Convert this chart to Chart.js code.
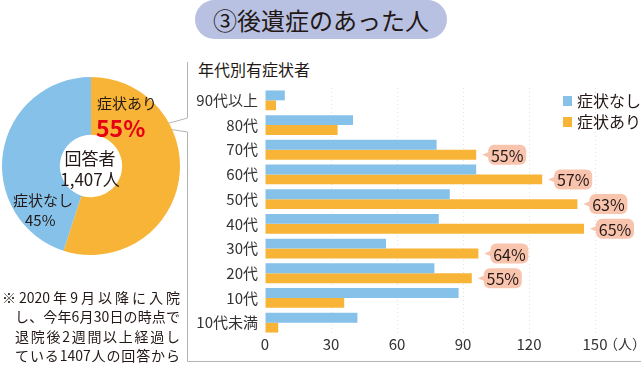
<!DOCTYPE html>
<html lang="ja">
<head>
<meta charset="utf-8">
<title>後遺症のあった人</title>
<script src="https://cdn.jsdelivr.net/npm/chart.js@4.4.0/dist/chart.umd.min.js"></script>
<style>
    html, body { margin: 0; padding: 0; background: #fff; }
    body { width: 641px; height: 371px; position: relative; overflow: hidden;
           font-family: "Noto Sans CJK JP", "Noto Sans", sans-serif; color: #231815; }
    .abs { position: absolute; white-space: nowrap; }
    #title { left: 195px; top: 0; width: 252px; height: 39px; border-radius: 20px;
             background: #b8c1e2; font-size: 24px; line-height: 40px; text-align: center; }
    #subtitle { left: 198px; top: 59px; font-size: 16px; line-height: 20px; }
    #barCanvas { position: absolute; left: 0; top: 0; }
    #pieBox { position: absolute; left: 2px; top: 77px; width: 178px; height: 178px; }
    .pie-lbl { font-size: 15px; line-height: 18px; }
    .note { font-size: 14px; line-height: 18px; text-align: justify; text-align-last: justify; }
</style>
</head>
<body>

<div id="title" class="abs">③後遺症のあった人</div>
<div id="subtitle" class="abs">年代別有症状者</div>

<canvas id="barCanvas" width="641" height="371"></canvas>
<div id="pieBox"><canvas id="pieCanvas"></canvas></div>

<div class="abs pie-lbl" style="left:97px; top:94px;">症状あり</div>
<div class="abs" style="left:96px; top:113px; font-size:23px; line-height:28px; font-weight:bold; color:#e60012;">55%</div>
<div class="abs" style="left:58px; width:64px; top:147px; font-size:17px; line-height:21px; text-align:center;">回答者</div>
<div class="abs" style="left:54px; width:72px; top:168px; font-size:17px; line-height:21px; text-align:center;">1,407人</div>
<div class="abs pie-lbl" style="left:13px; top:191px;">症状なし</div>
<div class="abs pie-lbl" style="left:25px; top:211px;">45%</div>

<div class="abs note" style="left:2px; width:178px; top:288px;">※2020年9月以降に入院</div>
<div class="abs note" style="left:15px; width:165px; top:307px;">し、今年6月30日の時点で</div>
<div class="abs note" style="left:15px; width:165px; top:327px;">退院後2週間以上経過し</div>
<div class="abs note" style="left:15px; width:165px; top:346px;">ている1407人の回答から</div>

<script>
// --- data ---
const ageGroups = ['90代以上', '80代', '70代', '60代', '50代', '40代', '30代', '20代', '10代', '10代未満'];
const noSymptoms = [9, 40, 78, 96, 84, 79, 55, 77, 88, 42];
const withSymptoms = [5, 33, 96, 126, 142, 145, 97, 94, 36, 6];
const symptomPct = [null, null, 55, 57, 63, 65, 64, 55, null, null];
const xTicks = [0, 30, 60, 90, 120, 150];

const pieLabels = ['症状あり', '症状なし'];
const pieValues = [55, 45];

const BLUE = '#86c1e9';
const ORANGE = '#f8b436';
const FONT = '"Noto Sans CJK JP", "Noto Sans", sans-serif';

// frame round the bar chart, with the pointer towards the doughnut
const framePlugin = {
    id: 'frame',
    beforeDraw(chart) {
        const ctx = chart.ctx;
        ctx.save();
        ctx.strokeStyle = '#b4b4b4';
        ctx.lineWidth = 1;
        ctx.beginPath();
        ctx.moveTo(187.5, 62);
        ctx.lineTo(187.5, 118);
        ctx.lineTo(155, 127);
        ctx.lineTo(187.5, 132);
        ctx.lineTo(187.5, 361.5);
        ctx.lineTo(641, 361.5);
        ctx.stroke();
        ctx.restore();
    }
};

// legend box in the top right and the "（人）" unit after the last tick
const legendPlugin = {
    id: 'cornerLegend',
    afterDraw(chart) {
        const ctx = chart.ctx;
        ctx.save();
        ctx.font = '16px ' + FONT;
        ctx.textBaseline = 'middle';
        chart.data.datasets.forEach((ds, i) => {
            const y = 101 + i * 21;
            ctx.fillStyle = ds.backgroundColor;
            ctx.fillRect(563, y - 5, 9, 10);
            ctx.fillStyle = '#231815';
            ctx.fillText(ds.label, 577, y);
        });
        const xs = chart.scales.x;
        ctx.font = '14px ' + FONT;
        ctx.fillStyle = '#333';
        ctx.fillText('（人）', xs.getPixelForValue(150) + 9, 344);
        ctx.restore();
    }
};

// pink speech bubbles with the share of people having symptoms
const bubblePlugin = {
    id: 'pctBubbles',
    afterDatasetsDraw(chart) {
        const ctx = chart.ctx;
        const meta = chart.getDatasetMeta(1);
        ctx.save();
        ctx.font = '16px ' + FONT;
        ctx.textAlign = 'center';
        ctx.textBaseline = 'middle';
        meta.data.forEach((bar, i) => {
            if (symptomPct[i] == null) return;
            const x = bar.x + 6;
            const y = bar.y;
            const left = x + 6, w = 38, h = 20, r = 6;
            ctx.fillStyle = '#f9c4ad';
            ctx.beginPath();
            ctx.moveTo(x, y);
            ctx.lineTo(left + 1, y - 3);
            ctx.lineTo(left + 1, y + 3);
            ctx.closePath();
            ctx.fill();
            ctx.beginPath();
            ctx.roundRect(left, y - h / 2, w, h, r);
            ctx.fill();
            ctx.fillStyle = '#231815';
            ctx.fillText(symptomPct[i] + '%', left + w / 2, y + 1);
        });
        ctx.restore();
    }
};

new Chart(document.getElementById('barCanvas'), {
    type: 'bar',
    data: {
        labels: ageGroups,
        datasets: [
            { label: '症状なし', data: noSymptoms, backgroundColor: BLUE },
            { label: '症状あり', data: withSymptoms, backgroundColor: ORANGE }
        ]
    },
    options: {
        indexAxis: 'y',
        responsive: false,
        animation: false,
        categoryPercentage: 0.8,
        barPercentage: 1.0,
        layout: { padding: { top: 88, left: 190, right: 46, bottom: 18 } },
        plugins: { legend: { display: false }, tooltip: { enabled: false } },
        scales: {
            x: {
                min: 0,
                max: 150,
                afterBuildTicks: axis => { axis.ticks = xTicks.map(v => ({ value: v })); },
                ticks: { padding: 0, color: '#333', font: { family: FONT, size: 15 } },
                grid: {
                    drawTicks: false,
                    color: ctx => ctx.tick && ctx.tick.value === 0 ? 'rgba(0,0,0,0)' : '#e2e2e2'
                },
                border: { display: false, dash: [1, 3] }
            },
            y: {
                afterFit: axis => { axis.width = 75; },
                ticks: { padding: 7, color: '#333', font: { family: FONT, size: 15 } },
                grid: { display: false, drawTicks: false },
                border: { display: false }
            }
        }
    },
    plugins: [framePlugin, bubblePlugin, legendPlugin]
});

new Chart(document.getElementById('pieCanvas'), {
    type: 'doughnut',
    data: {
        labels: pieLabels,
        datasets: [{ data: pieValues, backgroundColor: [ORANGE, BLUE], borderWidth: 0 }]
    },
    options: {
        responsive: true,
        maintainAspectRatio: false,
        animation: false,
        cutout: '35%',
        plugins: { legend: { display: false }, tooltip: { enabled: false } }
    }
});
</script>
</body>
</html>
